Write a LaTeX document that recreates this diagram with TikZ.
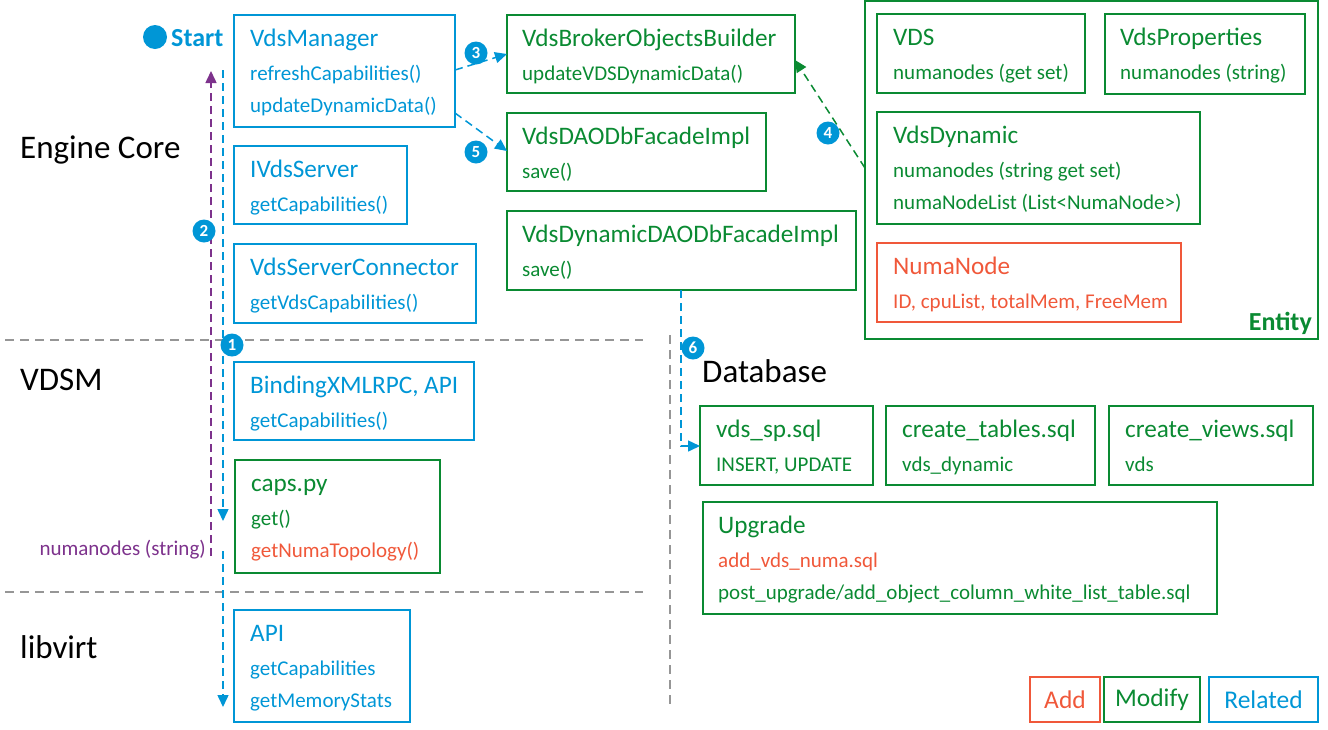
\documentclass[tikz,border=0pt]{standalone}
\usepackage{fontspec}
\setmainfont{Carlito}
\usetikzlibrary{arrows.meta,calc}
\definecolor{hpblue}{RGB}{0,150,214}
\definecolor{hpgreen}{RGB}{10,138,50}
\definecolor{hpred}{RGB}{240,88,58}
\definecolor{hppurple}{RGB}{125,50,140}
\definecolor{hpgray}{RGB}{150,150,150}
\newcommand\mkbox[6]{\node[boxbase,draw=#6,minimum width={(#4)-(#2)},minimum height={(#5)-(#3)},anchor=north west] (#1) at (#2,#3) {};}
\tikzset{
  boxbase/.style={rectangle,line width=1.6pt,inner sep=0pt,outer sep=0pt},
  ttl/.style={anchor=base west,inner sep=0pt,font=\fontsize{25.2}{27}\selectfont},
  sub/.style={anchor=base west,inner sep=0pt,font=\fontsize{21}{23}\selectfont},
  big/.style={anchor=base west,inner sep=0pt,font=\fontsize{33}{35}\selectfont,text=black},
  num/.style={circle,fill=hpblue,text=white,inner sep=0pt,minimum size=23pt,font=\bfseries\fontsize{17}{17}\selectfont},
  flow/.style={draw=hpblue,line width=1.5pt,dash pattern=on 8pt off 5pt,-{Triangle[length=12pt,width=11pt]}},
  sep/.style={draw=hpgray,line width=1.5pt,dash pattern=on 9pt off 6pt},
  legt/.style={inner sep=0pt,font=\fontsize{25.5}{27}\selectfont},
}
\begin{document}
\begin{tikzpicture}[x=1pt,y=-1pt]
\useasboundingbox (0,0) rectangle (1328,729);
% section separators
\draw[sep] (5,340) -- (643,340);
\draw[sep] (5,592) -- (643,592);
\draw[sep] (670,335) -- (670,706);
% left labels
\node[big] (lec) at (20,158) {Engine Core};
\node[big] (lvd) at (20,390) {VDSM};
\node[big] (llv) at (20,658) {libvirt};
\node[big] (ldb) at (702,382) {Database};
% start
\node[circle,fill=hpblue,minimum size=24pt,inner sep=0pt] (sdot) at (155,37) {};
\node[anchor=base west,inner sep=0pt,text=hpblue,font=\bfseries\fontsize{26}{28}\selectfont] (stxt) at (171,46) {Start};
% Engine core boxes (blue)
\mkbox{vm}{234}{15}{455}{127}{hpblue}
\node[ttl,text=hpblue] (vm1) at ($(vm.north west)+(16,31)$) {VdsManager};
\node[sub,text=hpblue] (vm2) at ($(vm.north west)+(16,65)$) {refreshCapabilities()};
\node[sub,text=hpblue] (vm3) at ($(vm.north west)+(16,97)$) {updateDynamicData()};
\mkbox{ivs}{234}{146}{407}{224}{hpblue}
\node[ttl,text=hpblue] (ivs1) at ($(ivs.north west)+(16,31)$) {IVdsServer};
\node[sub,text=hpblue] (ivs2) at ($(ivs.north west)+(16,65)$) {getCapabilities()};
\mkbox{vsc}{234}{244}{476}{323}{hpblue}
\node[ttl,text=hpblue] (vsc1) at ($(vsc.north west)+(16,31)$) {VdsServerConnector};
\node[sub,text=hpblue] (vsc2) at ($(vsc.north west)+(16,65)$) {getVdsCapabilities()};
% VDSM
\mkbox{bx}{234}{362}{474}{440}{hpblue}
\node[ttl,text=hpblue] (bx1) at ($(bx.north west)+(16,31)$) {BindingXMLRPC, API};
\node[sub,text=hpblue] (bx2) at ($(bx.north west)+(16,65)$) {getCapabilities()};
\mkbox{caps}{235}{460}{440}{573}{hpgreen}
\node[ttl,text=hpgreen] (caps1) at ($(caps.north west)+(16,31)$) {caps.py};
\node[sub,text=hpgreen] (caps2) at ($(caps.north west)+(16,65)$) {get()};
\node[sub,text=hpred] (caps3) at ($(caps.north west)+(16,97)$) {getNumaTopology()};
% libvirt
\mkbox{api}{234}{610}{410}{722}{hpblue}
\node[ttl,text=hpblue] (api1) at ($(api.north west)+(16,31)$) {API};
\node[sub,text=hpblue] (api2) at ($(api.north west)+(16,65)$) {getCapabilities};
\node[sub,text=hpblue] (api3) at ($(api.north west)+(16,97)$) {getMemoryStats};
% middle green boxes
\mkbox{vbob}{507}{15}{795}{93}{hpgreen}
\node[ttl,text=hpgreen] (vbob1) at ($(vbob.north west)+(15,31)$) {VdsBrokerObjectsBuilder};
\node[sub,text=hpgreen] (vbob2) at ($(vbob.north west)+(15,65)$) {updateVDSDynamicData()};
\mkbox{vdao}{507}{113}{766}{191}{hpgreen}
\node[ttl,text=hpgreen] (vdao1) at ($(vdao.north west)+(15,31)$) {VdsDAODbFacadeImpl};
\node[sub,text=hpgreen] (vdao2) at ($(vdao.north west)+(15,65)$) {save()};
\mkbox{vddao}{507}{211}{856}{290}{hpgreen}
\node[ttl,text=hpgreen] (vddao1) at ($(vddao.north west)+(15,31)$) {VdsDynamicDAODbFacadeImpl};
\node[sub,text=hpgreen] (vddao2) at ($(vddao.north west)+(15,65)$) {save()};
% Entity
\mkbox{ent}{865}{1}{1318}{339}{hpgreen}
\node[anchor=base east,inner sep=0pt,text=hpgreen,font=\bfseries\fontsize{26}{28}\selectfont] (entl) at (1312,330) {Entity};
\mkbox{vds}{877}{14}{1085}{93}{hpgreen}
\node[ttl,text=hpgreen] (vds1) at ($(vds.north west)+(16,31)$) {VDS};
\node[sub,text=hpgreen] (vds2) at ($(vds.north west)+(16,65)$) {numanodes (get set)};
\mkbox{vp}{1105}{14}{1305}{94}{hpgreen}
\node[ttl,text=hpgreen] (vp1) at ($(vp.north west)+(15,31)$) {VdsProperties};
\node[sub,text=hpgreen] (vp2) at ($(vp.north west)+(15,65)$) {numanodes (string)};
\mkbox{vdy}{877}{112}{1200}{224}{hpgreen}
\node[ttl,text=hpgreen] (vdy1) at ($(vdy.north west)+(16,31)$) {VdsDynamic};
\node[sub,text=hpgreen] (vdy2) at ($(vdy.north west)+(16,65)$) {numanodes (string get set)};
\node[sub,text=hpgreen] (vdy3) at ($(vdy.north west)+(16,97)$) {numaNodeList (List<NumaNode>)};
\mkbox{nn}{877}{243}{1181}{322}{hpred}
\node[ttl,text=hpred] (nn1) at ($(nn.north west)+(16,31)$) {NumaNode};
\node[sub,text=hpred] (nn2) at ($(nn.north west)+(16,65)$) {ID, cpuList, totalMem, FreeMem};
% Database
\mkbox{vsp}{700}{406}{873}{485}{hpgreen}
\node[ttl,text=hpgreen] (vsp1) at ($(vsp.north west)+(16,31)$) {vds\_sp.sql};
\node[sub,text=hpgreen] (vsp2) at ($(vsp.north west)+(16,65)$) {INSERT, UPDATE};
\mkbox{ct}{886}{406}{1095}{485}{hpgreen}
\node[ttl,text=hpgreen] (ct1) at ($(ct.north west)+(16,31)$) {create\_tables.sql};
\node[sub,text=hpgreen] (ct2) at ($(ct.north west)+(16,65)$) {vds\_dynamic};
\mkbox{cv}{1109}{406}{1313}{485}{hpgreen}
\node[ttl,text=hpgreen] (cv1) at ($(cv.north west)+(16,31)$) {create\_views.sql};
\node[sub,text=hpgreen] (cv2) at ($(cv.north west)+(16,65)$) {vds};
\mkbox{upg}{703}{502}{1217}{614}{hpgreen}
\node[ttl,text=hpgreen] (upg1) at ($(upg.north west)+(15,31)$) {Upgrade};
\node[sub,text=hpred] (upg2) at ($(upg.north west)+(15,65)$) {add\_vds\_numa.sql};
\node[sub,text=hpgreen] (upg3) at ($(upg.north west)+(15,97)$) {post\_upgrade/add\_object\_column\_white\_list\_table.sql};
% legend
\mkbox{ladd}{1030}{677}{1100}{722}{hpred}
\node[legt,text=hpred] (laddt) at (ladd.center) {Add};
\mkbox{lmod}{1104}{677}{1200}{722}{hpgreen}
\node[legt,text=hpgreen] (lmodt) at (lmod.center) {Modify};
\mkbox{lrel}{1209}{677}{1318}{722}{hpblue}
\node[legt,text=hpblue] (lrelt) at (lrel.center) {Related};
% flow connectors
\coordinate (d1a) at (223,70);
\coordinate (d1b) at (223,521);
\coordinate (d2a) at (223,551);
\coordinate (d2b) at (223,707);
\draw[flow] (d1a) -- (d1b);
\draw[flow] (d2a) -- (d2b);
\coordinate (pa) at (211,556);
\coordinate (pb) at (211,71);
\draw[flow,draw=hppurple] (pa) -- (pb);
\node[anchor=base east,inner sep=0pt,text=hppurple,font=\fontsize{21}{23}\selectfont] (plab) at (206,555) {numanodes (string)};
\draw[flow] ($(vm.north east)+(0,55)$) -- ($(vbob.north west)+(0,39)$);
\draw[flow] ($(vm.north east)+(0,98)$) -- ($(vdao.north west)+(0,38)$);
\draw[flow,draw=hpgreen] ($(ent.north west)+(0,167)$) -- ($(vbob.north east)+(0,45)$);
\draw[flow] ($(vddao.south west)+(174,0)$) |- ($(vsp.north west)+(0,40)$);
% numbers
\node[num] (n1) at (232,345) {1};
\node[num] (n2) at (204,231) {2};
\node[num] (n3) at (476,53) {3};
\node[num] (n4) at (828,133) {4};
\node[num] (n5) at (476,152) {5};
\node[num] (n6) at (693,348) {6};
\end{tikzpicture}
\end{document}
